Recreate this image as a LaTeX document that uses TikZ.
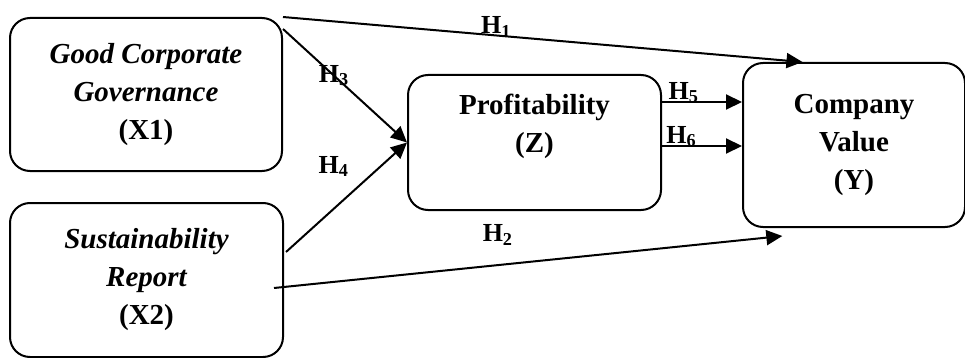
\documentclass[tikz,border=0pt]{standalone}
\usepackage{fontspec}
\setmainfont{Liberation Serif}
\usepackage{tikz}
\usetikzlibrary{positioning,arrows.meta,calc}

\begin{document}
\begin{tikzpicture}[
    x=1pt, y=-1pt,
    box/.style={draw, line width=2pt, rounded corners=20pt, align=center,
        font=\fontsize{29}{38}\selectfont\bfseries},
    arr/.style={-{Triangle[length=16pt,width=15pt]}, line width=2pt},
    hyp/.style={font=\fontsize{26}{30}\selectfont\bfseries, inner sep=1pt}
]
\useasboundingbox (0,0) rectangle (965,358);

\node[box, minimum width=272pt, minimum height=153pt] (gcg) at (146,94.5)
    {\itshape Good Corporate\\\itshape Governance\\(X1)};
\node[box, minimum width=273pt, minimum height=154pt] (sr) at (146.5,280)
    {\itshape Sustainability\\\itshape Report\\(X2)};
\node[box, minimum width=253pt, minimum height=135pt] (profit) at (534.5,142.5)
    {Profitability\\(Z)\\[0pt]\mbox{}};
\node[box, minimum width=222pt, minimum height=164pt] (value) at (854,145)
    {Company\\Value\\(Y)};

\coordinate (h5start) at ($(profit.north east)+(0,28)$);
\coordinate (h6start) at ($(profit.north east)+(0,72)$);

\draw[arr] (gcg.north east) -- node[hyp, pos=0.41, above=-4pt]{H\textsubscript{1}}
    ($(value.north west)!0.27!(value.north east)$);
\draw[arr] ($(gcg.north east)+(0,12)$) -- node[hyp, pos=0.41]{H\textsubscript{3}} (profit.west);
\draw[arr] ($(sr.north east)+(2,50)$) -- node[hyp, pos=0.78, left=30pt]{H\textsubscript{4}} (profit.west);
\draw[arr] ($(sr.east)+(-10,8)$) -- node[hyp, pos=0.44, above=18pt]{H\textsubscript{2}}
    ($(value.south west)!0.18!(value.south east)+(0,8)$);
\draw[arr] (h5start) -- node[hyp, pos=0.27, above=-3pt]{H\textsubscript{5}} (h5start -| value.west);
\draw[arr] (h6start) -- node[hyp, pos=0.24, above=-3pt]{H\textsubscript{6}} (h6start -| value.west);
\end{tikzpicture}
\end{document}
